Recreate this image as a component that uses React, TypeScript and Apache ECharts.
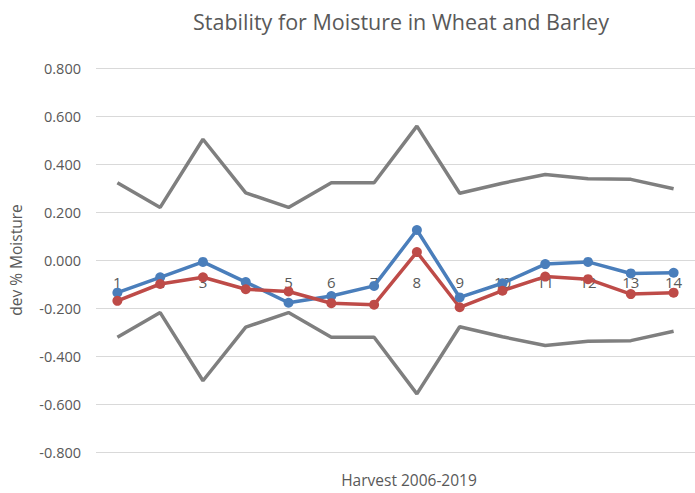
import React, { useEffect, useRef } from "react";
import * as echarts from "echarts";

const categories = ["1", "2", "3", "4", "5", "6", "7", "8", "9", "10", "11", "12", "13", "14"];
const upperLimit = [0.322, 0.219, 0.503, 0.28, 0.219, 0.322, 0.322, 0.558, 0.278, 0.32, 0.356, 0.339, 0.336, 0.297];
const lowerLimit = [-0.322, -0.219, -0.503, -0.28, -0.219, -0.322, -0.322, -0.558, -0.278, -0.32, -0.356, -0.339, -0.336, -0.297];
const wheat = [-0.136, -0.072, -0.008, -0.092, -0.178, -0.15, -0.108, 0.125, -0.156, -0.097, -0.017, -0.008, -0.056, -0.053];
const barley = [-0.17, -0.1, -0.072, -0.122, -0.131, -0.18, -0.186, 0.033, -0.197, -0.128, -0.069, -0.08, -0.142, -0.136];

const FONT = "'Open Sans', 'Noto Sans', sans-serif";

export default function App() {
  const ref = useRef<HTMLDivElement>(null);
  useEffect(() => {
    if (!ref.current) return;
    const chart = echarts.init(ref.current, undefined, { renderer: "svg" });
    chart.setOption({
      animation: false,
      backgroundColor: "#ffffff",
      title: {
        text: "Stability for Moisture in Wheat and Barley",
        left: 396,
        textAlign: "center",
        top: 5,
        textStyle: { fontFamily: FONT, fontSize: 21.5, fontWeight: "normal", color: "#595959" },
      },
      graphic: [
        {
          type: "text",
          x: 409,
          y: 472,
          style: { text: "Harvest 2006-2019", fontFamily: FONT, fontSize: 15.5, fill: "#595959", textAlign: "center" },
        },
      ],
      grid: { left: 95, right: -9, top: 68, bottom: 41, containLabel: false },
      xAxis: {
        type: "category",
        data: categories,
        boundaryGap: true,
        position: "bottom",
        offset: -192,
        axisLine: { show: false, onZero: false },
        axisTick: { show: false },
        axisLabel: { margin: 14, fontFamily: FONT, fontSize: 15, color: "#595959" },
      },
      yAxis: {
        type: "value",
        min: -0.8,
        max: 0.8,
        interval: 0.2,
        name: "dev % Moisture",
        nameLocation: "middle",
        nameGap: 72,
        nameTextStyle: { fontFamily: FONT, fontSize: 15.5, color: "#595959" },
        axisLine: { show: false },
        axisTick: { show: false },
        axisLabel: {
          fontFamily: FONT,
          fontSize: 14.5,
          color: "#595959",
          margin: 15,
          formatter: (v: number) => v.toFixed(3),
        },
        splitLine: { lineStyle: { color: "#d9d9d9", width: 1 } },
      },
      series: [
        {
          type: "line",
          name: "Upper",
          data: upperLimit,
          symbol: "none",
          lineStyle: { color: "#7f7f7f", width: 3.5 },
          itemStyle: { color: "#7f7f7f" },
        },
        {
          type: "line",
          name: "Lower",
          data: lowerLimit,
          symbol: "none",
          lineStyle: { color: "#7f7f7f", width: 3.5 },
          itemStyle: { color: "#7f7f7f" },
        },
        {
          type: "line",
          name: "Wheat",
          data: wheat,
          symbol: "circle",
          symbolSize: 10,
          lineStyle: { color: "#4a7ebb", width: 3.5 },
          itemStyle: { color: "#4a7ebb" },
        },
        {
          type: "line",
          name: "Barley",
          data: barley,
          symbol: "circle",
          symbolSize: 10,
          lineStyle: { color: "#be4b48", width: 3.5 },
          itemStyle: { color: "#be4b48" },
        },
      ],
    });
    return () => chart.dispose();
  }, []);
  return <div ref={ref} style={{ width: 695, height: 493, position: "absolute", left: 0, top: 0 }} />;
}
